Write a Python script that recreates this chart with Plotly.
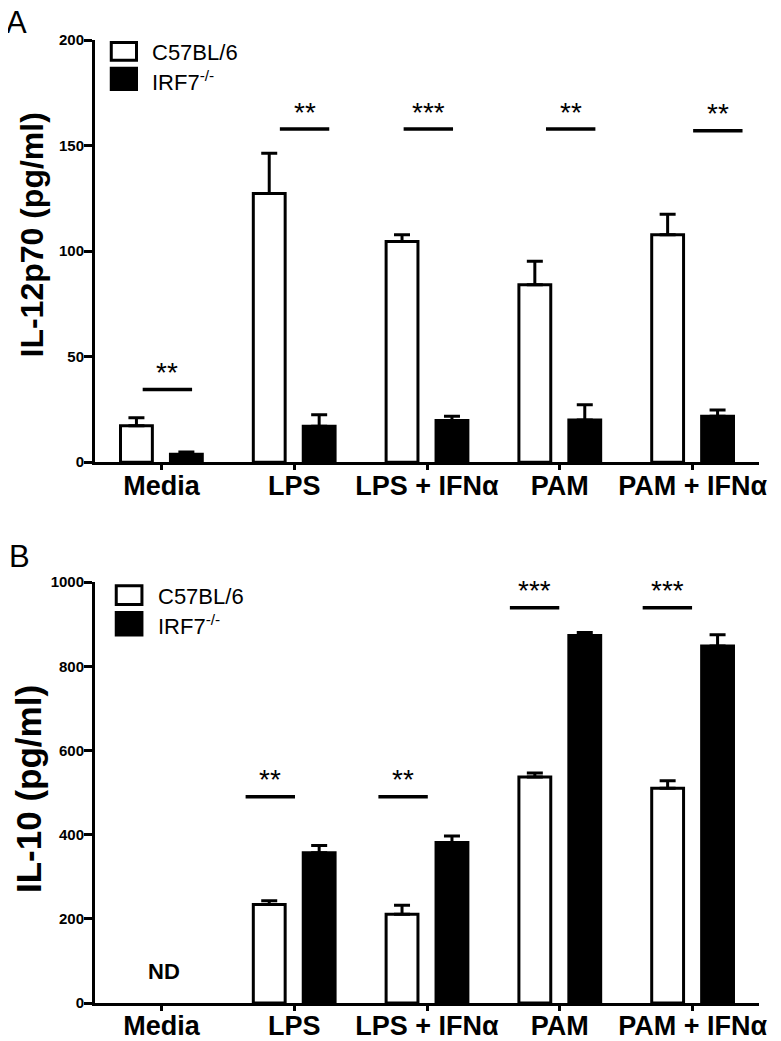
import plotly.graph_objects as go

# ---------------- data ----------------
categories = ["Media", "LPS", "LPS + IFNα", "PAM", "PAM + IFNα"]
series_names = ["C57BL/6", "IRF7<sup>-/-</sup>"]

# Panel A: IL-12p70 (pg/ml)
a_wt = [17.3, 127.3, 104.5, 84.0, 107.7]
a_wt_err = [3.8, 19.0, 3.2, 11.2, 9.7]
a_ko = [3.8, 17.0, 19.8, 20.0, 21.7]
a_ko_err = [1.0, 5.5, 2.0, 7.2, 3.0]
a_sig_x = [0.045, 1.078, 2.01, 3.082, 4.19]
a_sig_y = [34.4, 157.8, 157.8, 157.8, 157.0]
a_sig_txt = ["**", "**", "***", "**", "**"]

# Panel B: IL-10 (pg/ml)  (Media not detected)
b_wt = [None, 234.0, 211.0, 537.0, 510.0]
b_wt_err = [None, 9.0, 21.0, 9.5, 18.0]
b_ko = [None, 357.0, 381.0, 873.0, 848.0]
b_ko_err = [None, 17.0, 16.0, 7.0, 27.0]
b_sig_x = [0.82, 1.82, 2.81, 3.81]
b_sig_y = [490, 490, 939, 939]
b_sig_txt = ["**", "**", "***", "***"]
nd_text = "ND"

a_ticks = [0, 50, 100, 150, 200]
b_ticks = [0, 200, 400, 600, 800, 1000]

FONT = "Liberation Sans, Arial, sans-serif"
x_idx = list(range(len(categories)))
half = 0.186

fig = go.Figure()


def add_panel(xa, ya, wt, wt_err, ko, ko_err):
    for vals, errs, fill in ((wt, wt_err, "white"), (ko, ko_err, "black")):
        fig.add_trace(go.Bar(
            x=x_idx, y=vals, xaxis=xa, yaxis=ya, showlegend=False,
            marker=dict(color=fill, line=dict(color="black", width=3)),
            error_y=dict(type="data", array=errs,
                         arrayminus=[0 if e is not None else None for e in errs],
                         symmetric=False, color="black", thickness=3, width=8),
            hoverinfo="skip"))


def add_sig(xa, ya, xs, ys, txts):
    lx, ly = [], []
    for c, y in zip(xs, ys):
        lx += [c - half, c + half, None]
        ly += [y, y, None]
    fig.add_trace(go.Scatter(x=lx, y=ly, mode="lines", xaxis=xa, yaxis=ya,
                             line=dict(color="black", width=3.5),
                             showlegend=False, hoverinfo="skip"))
    for c, y, t in zip(xs, ys, txts):
        fig.add_annotation(x=c, y=y, xref=xa, yref=ya, text=t, showarrow=False,
                           yanchor="middle", yshift=17,
                           font=dict(family=FONT, size=28, color="black"))


add_panel("x", "y", a_wt, a_wt_err, a_ko, a_ko_err)
add_panel("x2", "y2", b_wt, b_wt_err, b_ko, b_ko_err)
add_sig("x", "y", a_sig_x, a_sig_y, a_sig_txt)
add_sig("x2", "y2", b_sig_x, b_sig_y, b_sig_txt)

fig.add_annotation(x=0.017, y=74, xref="x2", yref="y2", text=nd_text, showarrow=False,
                   font=dict(family=FONT, size=22, color="black", weight="bold"))

xaxis_style = dict(range=[-0.5, 4.5], tickvals=x_idx, ticktext=categories,
                   showline=True, linewidth=3, linecolor="black",
                   ticks="outside", ticklen=5, tickwidth=2.5, tickcolor="black",
                   showgrid=False, zeroline=False, ticklabelstandoff=-8,
                   ticklabeloverflow="allow",
                   tickfont=dict(family=FONT, size=27, color="black", weight="bold"))
yaxis_style = dict(showline=True, linewidth=3, linecolor="black",
                   ticks="outside", ticklen=8, tickwidth=2.5, tickcolor="black",
                   showgrid=False, zeroline=False, ticklabelstandoff=-3,
                   tickfont=dict(family=FONT, size=15, color="black", weight="bold"))

# page body keeps an 8px margin, so the figure is 16px narrower than the window
fig.update_layout(
    width=765, height=1039, autosize=False,
    margin=dict(l=87, r=6, t=32, b=30),
    paper_bgcolor="white", plot_bgcolor="white",
    barmode="group", bargap=0.248, bargroupgap=0.362,
    xaxis=dict(domain=[0, 1], anchor="y", **xaxis_style),
    yaxis=dict(domain=[0.5616, 1], anchor="x", range=[0, 200], tickvals=a_ticks, **yaxis_style),
    xaxis2=dict(domain=[0, 1], anchor="y2", **xaxis_style),
    yaxis2=dict(domain=[0, 0.4371], anchor="x2", range=[0, 1000], tickvals=b_ticks, **yaxis_style),
)

# custom legends (boxes + labels)
legend_pos = {
    ("x", "y"): dict(x0=0.0245, x1=0.0625, wy=(0.952, 0.994), ky=(0.883, 0.933), tx=0.0833, ty=(0.970, 0.903)),
    ("x2", "y2"): dict(x0=0.032, x1=0.0707, wy=(0.947, 0.991), ky=(0.874, 0.928), tx=0.0918, ty=(0.965, 0.898)),
}
for (xa, ya), p in legend_pos.items():
    for (y0, y1), fill in ((p["wy"], "white"), (p["ky"], "black")):
        fig.add_shape(type="rect", xref=f"{xa} domain", yref=f"{ya} domain",
                      x0=p["x0"], x1=p["x1"], y0=y0, y1=y1,
                      fillcolor=fill, line=dict(color="black", width=3))
    for name, ty in zip(series_names, p["ty"]):
        fig.add_annotation(xref=f"{xa} domain", yref=f"{ya} domain", x=p["tx"], y=ty,
                           text=name, showarrow=False, xanchor="left", yanchor="middle",
                           font=dict(family=FONT, size=22, color="black"))

# y-axis titles
for txt, x, y, s in (("IL-12p70 (pg/ml)", -0.0952, 0.7978, 32), ("IL-10 (pg/ml)", -0.1012, 0.222, 35)):
    fig.add_annotation(xref="paper", yref="paper", x=x, y=y, text=txt, textangle=-90,
                       showarrow=False, xanchor="center", yanchor="middle",
                       font=dict(family=FONT, size=s, color="black", weight="bold"))

# panel letters
for txt, x, y in (("A", -0.1176, 1.0185), ("B", -0.1131, 0.4637)):
    fig.add_annotation(xref="paper", yref="paper", x=x, y=y, text=txt,
                       showarrow=False, xanchor="center", yanchor="middle",
                       font=dict(family=FONT, size=31, color="black"))

fig.write_html("out.html", config={"responsive": False, "displayModeBar": False})
